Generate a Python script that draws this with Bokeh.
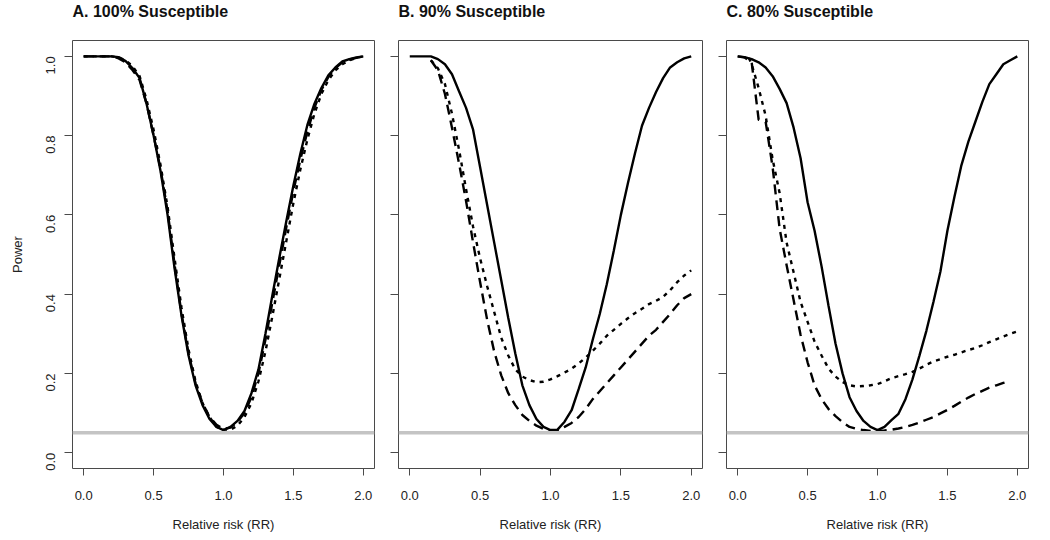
import math
from bokeh.plotting import figure
from bokeh.layouts import row
from bokeh.models import (Range1d, FixedTicker, NumeralTickFormatter, Span,
                          CustomLabelingPolicy)
from bokeh.embed import file_html
from bokeh.resources import INLINE

# ---------------- data ----------------
RR = [0.00, 0.05, 0.10, 0.15, 0.20, 0.25, 0.30, 0.35, 0.40, 0.45,
      0.50, 0.55, 0.60, 0.65, 0.70, 0.75, 0.80, 0.85, 0.90, 0.95,
      1.00, 1.05, 1.10, 1.15, 1.20, 1.25, 1.30, 1.35, 1.40, 1.45,
      1.50, 1.55, 1.60, 1.65, 1.70, 1.75, 1.80, 1.85, 1.90, 1.95, 2.00]

RR_B_ALT = [0.15, 0.20, 0.25, 0.30, 0.35, 0.40, 0.45,
            0.50, 0.55, 0.60, 0.65, 0.70, 0.75, 0.80, 0.85, 0.90, 0.95,
            1.00, 1.05, 1.10, 1.15, 1.20, 1.25, 1.30, 1.35, 1.40, 1.45,
            1.50, 1.55, 1.60, 1.65, 1.70, 1.75, 1.80, 1.85, 1.90, 1.95, 2.00]

A_solid = [1.0, 1.0, 1.0, 1.0, 1.0, 0.998, 0.988, 0.97, 0.945, 0.88,
           0.80, 0.71, 0.60, 0.465, 0.345, 0.245, 0.17, 0.12, 0.085, 0.065,
           0.057, 0.065, 0.08, 0.105, 0.15, 0.21, 0.30, 0.398, 0.493, 0.585,
           0.674, 0.755, 0.827, 0.88, 0.92, 0.952, 0.972, 0.987, 0.993, 0.997, 1.0]
A_dashed = [1.0, 1.0, 1.0, 1.0, 1.0, 0.995, 0.985, 0.965, 0.94, 0.88,
            0.80, 0.715, 0.61, 0.475, 0.35, 0.25, 0.175, 0.125, 0.09, 0.07,
            0.06, 0.063, 0.078, 0.10, 0.14, 0.20, 0.285, 0.38, 0.475, 0.57,
            0.66, 0.74, 0.81, 0.87, 0.915, 0.948, 0.97, 0.985, 0.992, 0.996, 1.0]
A_dotted = [1.0, 1.0, 1.0, 1.0, 1.0, 0.997, 0.99, 0.975, 0.95, 0.89,
            0.815, 0.725, 0.62, 0.49, 0.365, 0.26, 0.18, 0.125, 0.09, 0.065,
            0.058, 0.058, 0.068, 0.09, 0.125, 0.18, 0.255, 0.345, 0.44, 0.535,
            0.63, 0.715, 0.79, 0.855, 0.905, 0.94, 0.965, 0.98, 0.99, 0.996, 1.0]

B_solid = [1.0, 1.0, 1.0, 1.0, 0.993, 0.98, 0.955, 0.912, 0.87, 0.815,
           0.72, 0.625, 0.53, 0.435, 0.34, 0.25, 0.17, 0.12, 0.085, 0.065,
           0.057, 0.058, 0.078, 0.107, 0.16, 0.215, 0.285, 0.35, 0.425, 0.51,
           0.60, 0.68, 0.755, 0.825, 0.87, 0.91, 0.945, 0.972, 0.985, 0.995, 1.0]
B_dashed = [0.99, 0.965, 0.905, 0.82, 0.73, 0.635, 0.53,
            0.43, 0.335, 0.255, 0.195, 0.15, 0.12, 0.095, 0.08, 0.068, 0.06,
            0.056, 0.056, 0.065, 0.075, 0.09, 0.11, 0.135, 0.155, 0.175, 0.195,
            0.215, 0.235, 0.255, 0.275, 0.295, 0.31, 0.33, 0.35, 0.372, 0.39, 0.40]
B_dotted = [0.99, 0.97, 0.93, 0.855, 0.765, 0.665, 0.57,
            0.49, 0.42, 0.355, 0.29, 0.245, 0.21, 0.192, 0.183, 0.178, 0.179,
            0.185, 0.193, 0.202, 0.212, 0.225, 0.24, 0.257, 0.275, 0.295, 0.31,
            0.325, 0.339, 0.352, 0.363, 0.375, 0.383, 0.393, 0.41, 0.43, 0.447, 0.46]

C_solid = [1.0, 0.998, 0.993, 0.985, 0.972, 0.95, 0.918, 0.882, 0.82, 0.743,
           0.632, 0.56, 0.47, 0.37, 0.275, 0.20, 0.14, 0.105, 0.08, 0.065,
           0.057, 0.065, 0.082, 0.098, 0.135, 0.185, 0.245, 0.308, 0.38, 0.457,
           0.56, 0.645, 0.725, 0.785, 0.835, 0.885, 0.93, 0.955, 0.98, 0.99, 1.0]
RR_C_dashed = [0.00, 0.05, 0.10, 0.15, 0.20, 0.25, 0.30, 0.35, 0.40, 0.45,
               0.50, 0.55, 0.60, 0.65, 0.70, 0.75, 0.80, 0.85, 0.90, 0.95,
               1.00, 1.05, 1.10, 1.15, 1.20, 1.25, 1.30, 1.35, 1.40, 1.45,
               1.50, 1.55, 1.60, 1.65, 1.70, 1.75, 1.80, 1.85, 1.90, 1.93]
C_dashed = [1.0, 0.997, 0.985, 0.84, 0.835, 0.72, 0.565, 0.473, 0.385, 0.297,
            0.228, 0.17, 0.135, 0.11, 0.092, 0.077, 0.065, 0.06, 0.057, 0.055,
            0.055, 0.056, 0.058, 0.061, 0.065, 0.07, 0.076, 0.083, 0.09, 0.099,
            0.108, 0.118, 0.129, 0.139, 0.148, 0.156, 0.164, 0.17, 0.176, 0.179]
RR_C_dotted = [0.08, 0.10, 0.15, 0.20, 0.25, 0.30, 0.35, 0.40, 0.45,
               0.50, 0.55, 0.60, 0.65, 0.70, 0.75, 0.80, 0.85, 0.90, 0.95,
               1.00, 1.05, 1.10, 1.15, 1.20, 1.25, 1.30, 1.35, 1.40, 1.45,
               1.50, 1.55, 1.60, 1.65, 1.70, 1.75, 1.80, 1.85, 1.90, 1.95, 2.00]
C_dotted = [0.996, 0.98, 0.92, 0.85, 0.74, 0.655, 0.53, 0.455, 0.38,
            0.33, 0.28, 0.245, 0.212, 0.192, 0.178, 0.17, 0.167, 0.168, 0.17,
            0.173, 0.18, 0.188, 0.193, 0.198, 0.204, 0.212, 0.222, 0.23, 0.236,
            0.242, 0.247, 0.253, 0.259, 0.264, 0.271, 0.279, 0.286, 0.293, 0.3, 0.306]

ALPHA = 0.05
X_TICKS = [0.0, 0.5, 1.0, 1.5, 2.0]
Y_TICKS = [0.0, 0.2, 0.4, 0.6, 0.8, 1.0]
TITLES = ["A. 100% Susceptible", "B. 90% Susceptible", "C. 80% Susceptible"]
X_LABEL = "Relative risk (RR)"
Y_LABEL = "Power"

PANELS = [
    (TITLES[0], (RR, A_solid), (RR, A_dashed), (RR, A_dotted)),
    (TITLES[1], (RR, B_solid), (RR_B_ALT, B_dashed), (RR_B_ALT, B_dotted)),
    (TITLES[2], (RR, C_solid), (RR_C_dashed, C_dashed), (RR_C_dotted, C_dotted)),
]

FONT = "Liberation Sans"
BOX = "#4a4a4a"
TXT = "#222222"

# (left border, frame width, right border)
GEOM = [(72, 302, 4), (20, 304, 4), (20, 302, 14)]
TITLE_STANDOFF = 41
TOP, FRAME_H, BOTTOM = 61, 428, 72      # TOP = title standoff + 20
SHIFT_UP = TOP - 40                     # frame top lands at y = 40


def make_panel(i, title, solid, dashed, dotted):
    left, fw, right = GEOM[i]
    p = figure(width=left + fw + right, height=TOP + FRAME_H + BOTTOM,
               min_border_left=left, min_border_right=right,
               min_border_top=TOP, min_border_bottom=BOTTOM,
               x_range=Range1d(-0.08, 2.08), y_range=Range1d(-0.04, 1.04),
               output_backend="svg", toolbar_location=None, title=title)
    p.grid.visible = False
    p.outline_line_color = BOX
    p.outline_line_width = 1
    p.title.text_font = FONT
    p.title.text_font_size = "16px"
    p.title.text_font_style = "bold"
    p.title.text_color = "#111111"
    p.title.align = "left"
    p.title.standoff = TITLE_STANDOFF

    p.add_layout(Span(location=ALPHA, dimension="width",
                      line_color="#c4c4c4", line_width=3.5))

    p.line(solid[0], solid[1], line_color="black", line_width=2.4)
    p.line(dashed[0], dashed[1], line_color="black", line_width=2.4,
           line_dash="10 6")
    p.line(dotted[0], dotted[1], line_color="black", line_width=2.4,
           line_dash="4 5")

    for ax in (p.xaxis[0], p.yaxis[0]):
        ax.axis_line_color = None
        ax.major_tick_line_color = BOX
        ax.major_tick_in = 0
        ax.minor_tick_line_color = None
        ax.major_label_text_font = FONT
        ax.major_label_text_font_size = "13px"
        ax.major_label_text_color = TXT
        ax.axis_label_text_font = FONT
        ax.axis_label_text_font_size = "13px"
        ax.axis_label_text_font_style = "normal"
        ax.axis_label_text_color = TXT
        ax.formatter = NumeralTickFormatter(format="0.0")

    xa = p.xaxis[0]
    xa.ticker = FixedTicker(ticks=X_TICKS)
    xa.major_tick_out = 7
    xa.major_label_standoff = 15
    xa.axis_label = X_LABEL
    xa.axis_label_standoff = 14

    ya = p.yaxis[0]
    ya.ticker = FixedTicker(ticks=Y_TICKS)
    ya.major_tick_out = 8
    if i == 0:
        ya.major_label_orientation = math.pi / 2
        ya.major_label_standoff = 14
        ya.axis_label = Y_LABEL
        ya.axis_label_standoff = 14
    else:
        # ticks only, no tick labels (as in panels B and C of the original)
        ya.major_label_policy = CustomLabelingPolicy(code="return []")
        ya.major_label_text_font_size = "0px"
        ya.major_label_standoff = 4
    return p


figs = [make_panel(i, *pn) for i, pn in enumerate(PANELS)]
layout = row(*figs, spacing=0, margin=(-SHIFT_UP, 0, -4, 0))

open("out.html", "w").write(file_html(layout, INLINE))
